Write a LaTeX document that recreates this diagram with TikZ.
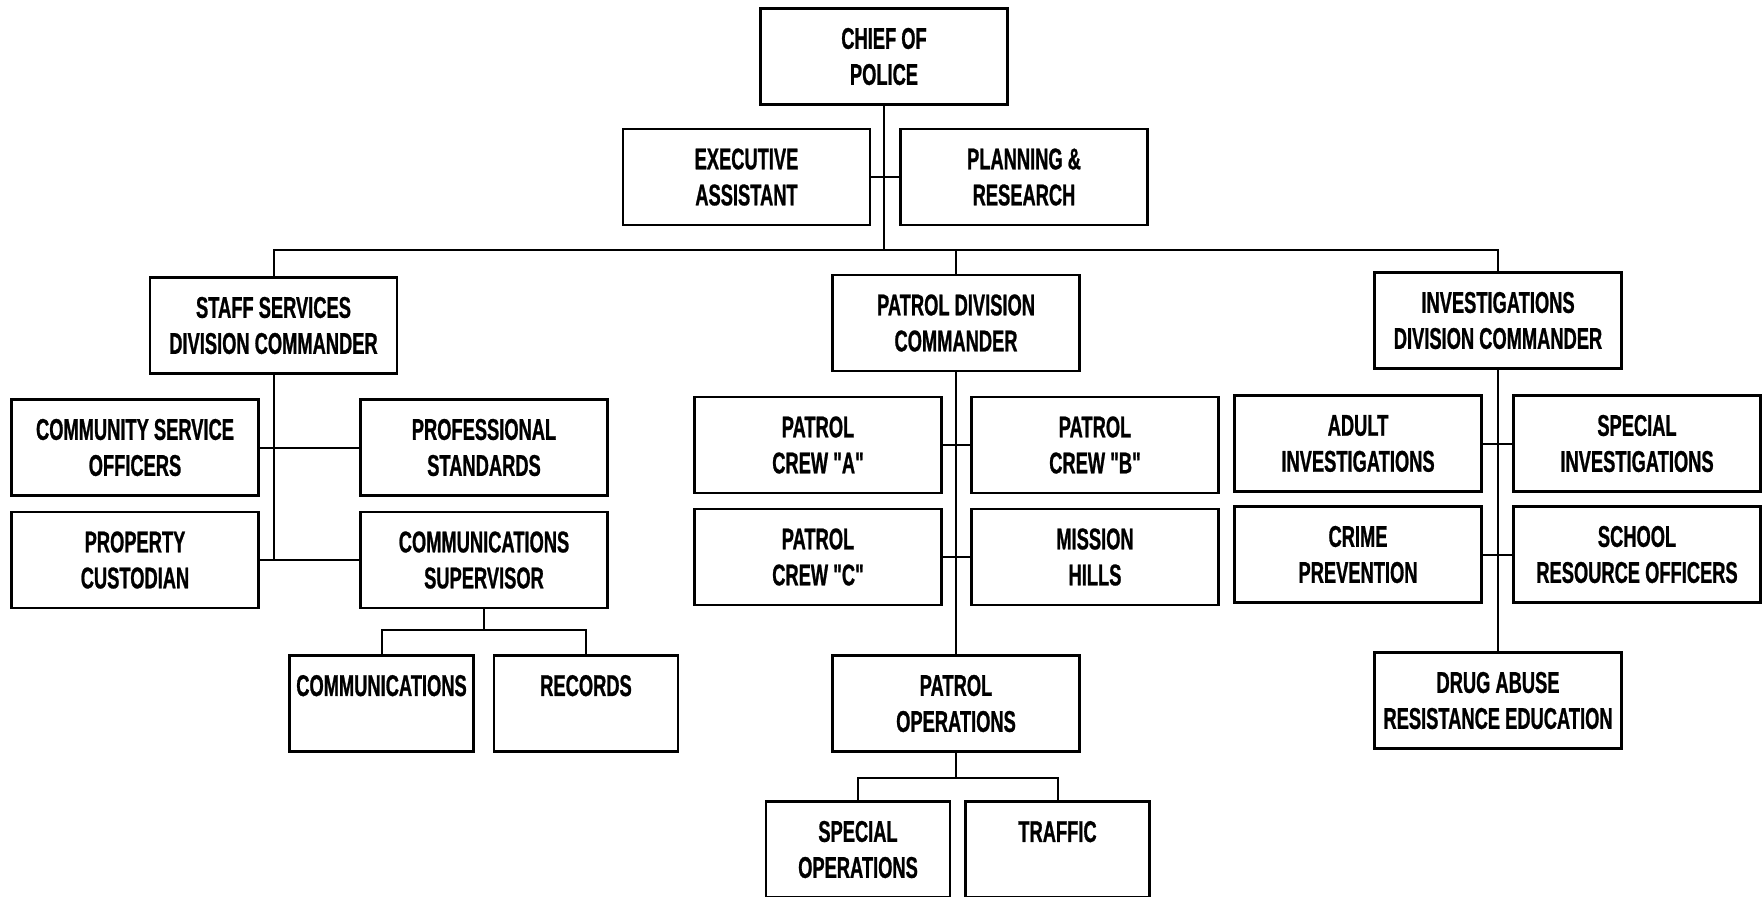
\documentclass[tikz,border=0pt]{standalone}
\usepackage{fontspec}
\setmainfont{Liberation Sans}[FakeStretch=0.61, Ligatures=TeXOff, BoldFeatures={FakeBold=0.8}]
\begin{document}
\begin{tikzpicture}[x=0.5pt,y=-0.5pt,
  unit/.style={draw, line width=1.1pt, minimum width=123.5pt, minimum height=48pt,
    inner sep=0pt, align=center, font=\fontsize{15}{18}\selectfont\bfseries},
  subunit/.style={unit, minimum width=92pt}]
\useasboundingbox (0,0) rectangle (1764,896);

\node[unit] (chief) at (884,56.5) {CHIEF OF\\POLICE};
\node[unit] (exec) at (746.5,177) {EXECUTIVE\\ASSISTANT};
\node[unit] (plan) at (1024,177) {PLANNING \&\\RESEARCH};

\node[unit] (staff) at (273.5,325.5) {STAFF SERVICES\\DIVISION COMMANDER};
\node[unit] (patrol) at (956,323) {PATROL DIVISION\\COMMANDER};
\node[unit] (invest) at (1498,320.5) {INVESTIGATIONS\\DIVISION COMMANDER};

\node[unit] (cso) at (135,447.5) {COMMUNITY SERVICE\\OFFICERS};
\node[unit] (profstd) at (484,447.5) {PROFESSIONAL\\STANDARDS};
\node[unit] (property) at (135,560) {PROPERTY\\CUSTODIAN};
\node[unit] (commsup) at (484,560) {COMMUNICATIONS\\SUPERVISOR};
\node[subunit] (comms) at (381.5,703.5) {COMMUNICATIONS\\~};
\node[subunit] (records) at (586,703.5) {RECORDS\\~};

\node[unit] (crewa) at (818,445) {PATROL\\CREW "A"};
\node[unit] (crewb) at (1095,445) {PATROL\\CREW "B"};
\node[unit] (crewc) at (818,557) {PATROL\\CREW "C"};
\node[unit] (mission) at (1095,557) {MISSION\\HILLS};
\node[unit] (patrolops) at (956,703.5) {PATROL\\OPERATIONS};
\node[subunit] (specops) at (858,849.5) {SPECIAL\\OPERATIONS};
\node[subunit] (traffic) at (1057.5,849.5) {TRAFFIC\\~};

\node[unit] (adult) at (1358,443.5) {ADULT\\INVESTIGATIONS};
\node[unit] (specinv) at (1637,443.5) {SPECIAL\\INVESTIGATIONS};
\node[unit] (crime) at (1358,554.5) {CRIME\\PREVENTION};
\node[unit] (school) at (1637,554.5) {SCHOOL\\RESOURCE OFFICERS};
\node[unit] (dare) at (1498,700.5) {DRUG ABUSE\\RESISTANCE EDUCATION};

\coordinate (bar) at (884,250);
\coordinate (cbar) at (484,630);
\coordinate (pbar) at (956,778);

\path[draw,line width=1pt] (chief.south) -- (bar);
\path[draw,line width=1pt] (exec.east) -- (plan.west);
\path[draw,line width=1pt] (staff.north) |- (bar) -| (invest.north);
\path[draw,line width=1pt] (patrol.north) -- (patrol.north |- bar);

\path[draw,line width=1pt] (staff.south) -- (staff.south |- property.east);
\path[draw,line width=1pt] (cso.east) -- (profstd.west);
\path[draw,line width=1pt] (property.east) -- (commsup.west);
\path[draw,line width=1pt] (commsup.south) -- (cbar);
\path[draw,line width=1pt] (comms.north) |- (cbar) -| (records.north);

\path[draw,line width=1pt] (patrol.south) -- (patrolops.north);
\path[draw,line width=1pt] (crewa.east) -- (crewb.west);
\path[draw,line width=1pt] (crewc.east) -- (mission.west);
\path[draw,line width=1pt] (patrolops.south) -- (pbar);
\path[draw,line width=1pt] (specops.north) |- (pbar) -| (traffic.north);

\path[draw,line width=1pt] (invest.south) -- (dare.north);
\path[draw,line width=1pt] (adult.east) -- (specinv.west);
\path[draw,line width=1pt] (crime.east) -- (school.west);
\end{tikzpicture}
\end{document}
